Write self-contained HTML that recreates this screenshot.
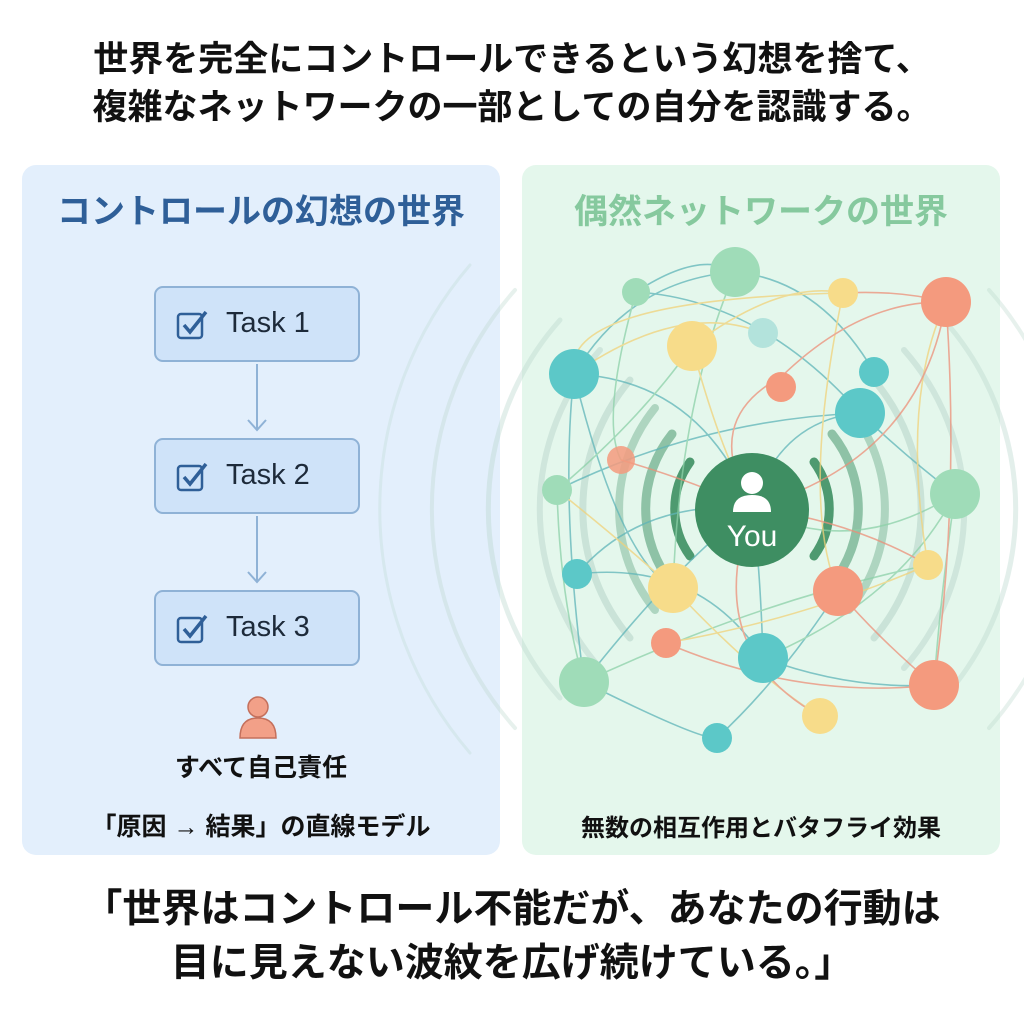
<!DOCTYPE html>
<html><head><meta charset="utf-8"><style>
body{margin:0;width:1024px;height:1024px;background:#fff;overflow:hidden;font-family:"Liberation Sans","Noto Sans CJK JP",sans-serif;position:relative}
.t{position:absolute;left:0;width:1024px;text-align:center;font-weight:bold;color:#111;white-space:nowrap}
.panel{position:absolute;top:165px;height:690px;width:478px;border-radius:14px}
.box{position:absolute;left:154px;width:206px;height:76px;border:2px solid #8fb2d6;border-radius:9px;background:#cfe3f9;box-sizing:border-box}
.box span{position:absolute;left:70px;top:19px;font-size:29px;color:#1d2a3a}
.box svg{position:absolute;left:20px;top:20px}
</style></head><body>
<div class="t" style="top:36px;font-size:35px;line-height:48px;">世界を完全にコントロールできるという幻想を捨て、<br>複雑なネットワークの一部としての自分を認識する。</div>
<div class="panel" style="left:22px;background:#e3effc"></div>
<div class="panel" style="left:522px;background:#e4f7ec"></div>
<div class="t" style="left:22px;width:478px;top:184px;font-size:34px;color:#2f5f98">コントロールの幻想の世界</div>
<div class="t" style="left:522px;width:478px;top:184px;font-size:34px;color:#86c99e">偶然ネットワークの世界</div>

<svg style="position:absolute;left:0;top:0" width="1024" height="1024">
<g fill="none" stroke="#b9d6cc" stroke-linecap="round">
<path d="M690 462 A80 80 0 0 0 690 556" stroke-width="9" stroke="#4e9a70"/>
<path d="M814 462 A80 80 0 0 1 814 556" stroke-width="9" stroke="#4e9a70"/>
<path d="M672 434 A120 120 0 0 0 672 584" stroke-width="9" stroke="#7fb89a" opacity=".85"/>
<path d="M832 434 A120 120 0 0 1 832 584" stroke-width="9" stroke="#7fb89a" opacity=".85"/>
<path d="M655 408 A160 160 0 0 0 655 610" stroke-width="8" stroke="#9cc9b2" opacity=".75"/>
<path d="M849 408 A160 160 0 0 1 849 610" stroke-width="8" stroke="#9cc9b2" opacity=".75"/>
<path d="M630 380 A200 200 0 0 0 630 638" stroke-width="7" opacity=".6"/>
<path d="M874 380 A200 200 0 0 1 874 638" stroke-width="7" opacity=".6"/>
<path d="M600 350 A240 240 0 0 0 600 668" stroke-width="6" opacity=".5"/>
<path d="M904 350 A240 240 0 0 1 904 668" stroke-width="6" opacity=".5"/>
<path d="M560 320 A285 285 0 0 0 560 698" stroke-width="5" opacity=".4"/>
<path d="M944 320 A285 285 0 0 1 944 698" stroke-width="5" opacity=".4"/>
<path d="M515 290 A330 330 0 0 0 515 728" stroke-width="4" opacity=".35"/>
<path d="M989 290 A330 330 0 0 1 989 728" stroke-width="4" opacity=".35"/>
<path d="M470 265 A375 375 0 0 0 470 753" stroke-width="3" opacity=".3"/>
</g>
<g fill="none" stroke-width="1.6" opacity=".75">
<g stroke="#5fb5b8">
<path d="M574 374 Q630 280 735 272"/><path d="M574 374 Q700 380 752 508"/><path d="M574 374 Q560 500 584 682"/>
<path d="M636 292 Q760 300 860 413"/><path d="M735 272 Q820 280 874 372"/><path d="M577 574 Q700 560 763 658"/>
<path d="M577 574 Q640 500 752 508"/><path d="M763 658 Q760 560 752 508"/><path d="M860 413 Q780 420 752 508"/>
<path d="M584 682 Q700 740 717 738"/><path d="M763 658 Q850 690 934 685"/><path d="M717 738 Q780 680 838 591"/>
<path d="M574 374 Q620 560 673 588"/><path d="M860 413 Q910 460 955 494"/><path d="M636 292 Q700 250 735 272"/>
<path d="M557 490 Q700 420 860 413"/><path d="M584 682 Q680 560 752 508"/>
</g>
<g stroke="#8dd1a9">
<path d="M557 490 Q640 420 692 346"/><path d="M557 490 Q560 600 584 682"/><path d="M955 494 Q900 600 763 658"/>
<path d="M735 272 Q680 400 673 588"/><path d="M584 682 Q760 600 928 565"/><path d="M955 494 Q940 600 934 685"/>
<path d="M636 292 Q600 420 621 460"/><path d="M955 494 Q850 560 752 508"/>
</g>
<g stroke="#f1d27a">
<path d="M692 346 Q780 280 843 293"/><path d="M574 374 Q680 300 763 333"/><path d="M673 588 Q760 680 820 716"/>
<path d="M928 565 Q800 620 666 643"/><path d="M843 293 Q800 500 838 591"/><path d="M557 490 Q620 540 673 588"/>
<path d="M692 346 Q720 450 752 508"/><path d="M928 565 Q900 400 946 302"/><path d="M574 374 Q560 300 843 293"/>
</g>
<g stroke="#ec8f78">
<path d="M781 377 Q860 300 946 302"/><path d="M946 302 Q920 460 752 508"/><path d="M843 293 Q900 290 946 302"/>
<path d="M666 643 Q800 700 934 685"/><path d="M838 591 Q880 640 934 685"/><path d="M752 508 Q700 650 820 716"/>
<path d="M781 377 Q700 420 752 508"/><path d="M946 302 Q960 500 934 685"/><path d="M621 460 Q690 480 752 508"/>
<path d="M752 508 Q850 520 928 565"/>
</g>
</g>
<g>
<circle cx="735" cy="272" r="25" fill="#9fdcb8"/><circle cx="636" cy="292" r="14" fill="#9fdcb8"/>
<circle cx="843" cy="293" r="15" fill="#f7dc8a"/><circle cx="946" cy="302" r="25" fill="#f49a7e"/>
<circle cx="574" cy="374" r="25" fill="#5cc8c8"/><circle cx="692" cy="346" r="25" fill="#f7dc8a"/>
<circle cx="763" cy="333" r="15" fill="#b3e3dc"/><circle cx="781" cy="387" r="15" fill="#f49a7e"/>
<circle cx="874" cy="372" r="15" fill="#5cc8c8"/><circle cx="860" cy="413" r="25" fill="#5cc8c8"/>
<circle cx="621" cy="460" r="14" fill="#f49a7e" opacity=".85"/><circle cx="557" cy="490" r="15" fill="#9fdcb8"/>
<circle cx="955" cy="494" r="25" fill="#9fdcb8"/><circle cx="577" cy="574" r="15" fill="#5cc8c8"/>
<circle cx="673" cy="588" r="25" fill="#f7dc8a"/><circle cx="838" cy="591" r="25" fill="#f49a7e"/>
<circle cx="928" cy="565" r="15" fill="#f7dc8a"/><circle cx="666" cy="643" r="15" fill="#f49a7e"/>
<circle cx="763" cy="658" r="25" fill="#5cc8c8"/><circle cx="584" cy="682" r="25" fill="#9fdcb8"/>
<circle cx="934" cy="685" r="25" fill="#f49a7e"/><circle cx="820" cy="716" r="18" fill="#f7dc8a"/>
<circle cx="717" cy="738" r="15" fill="#5cc8c8"/>
<circle cx="752" cy="510" r="57" fill="#3e8e62"/>
<circle cx="752" cy="483" r="11" fill="#fff"/>
<path d="M733 512 Q733 495 752 495 Q771 495 771 512 Z" fill="#fff"/>
<text x="752" y="546" text-anchor="middle" font-size="30" fill="#fff" font-family="Liberation Sans,sans-serif">You</text>
</g>
<g stroke="#8fb2d6" stroke-width="2" fill="none">
<line x1="257" y1="364" x2="257" y2="430"/><path d="M248 420 L257 430 L266 420"/>
<line x1="257" y1="516" x2="257" y2="582"/><path d="M248 572 L257 582 L266 572"/>
</g>
<circle cx="258" cy="707" r="10" fill="#f2a088" stroke="#c4705c" stroke-width="1.5"/>
<path d="M240 738 Q240 718 258 718 Q276 718 276 738 Z" fill="#f2a088" stroke="#c4705c" stroke-width="1.5"/>
</svg>

<div class="box" style="top:286px"><svg width="34" height="34"><rect x="2" y="6" width="24" height="24" rx="3" fill="none" stroke="#2f5f98" stroke-width="2.5"/><path d="M8 17 L14 24 L30 4" fill="none" stroke="#2f5f98" stroke-width="3.5"/></svg><span>Task 1</span></div>
<div class="box" style="top:438px"><svg width="34" height="34"><rect x="2" y="6" width="24" height="24" rx="3" fill="none" stroke="#2f5f98" stroke-width="2.5"/><path d="M8 17 L14 24 L30 4" fill="none" stroke="#2f5f98" stroke-width="3.5"/></svg><span>Task 2</span></div>
<div class="box" style="top:590px"><svg width="34" height="34"><rect x="2" y="6" width="24" height="24" rx="3" fill="none" stroke="#2f5f98" stroke-width="2.5"/><path d="M8 17 L14 24 L30 4" fill="none" stroke="#2f5f98" stroke-width="3.5"/></svg><span>Task 3</span></div>

<div class="t" style="left:22px;width:478px;top:748px;font-size:25px">すべて自己責任</div>
<div class="t" style="left:22px;width:478px;top:807px;font-size:25px">「原因 → 結果」の直線モデル</div>
<div class="t" style="left:522px;width:478px;top:808px;font-size:24px">無数の相互作用とバタフライ効果</div>
<div class="t" style="top:883px;font-size:39px;line-height:54px">「世界はコントロール不能だが、あなたの行動は<br>目に見えない波紋を広げ続けている。」</div>
</body></html>
